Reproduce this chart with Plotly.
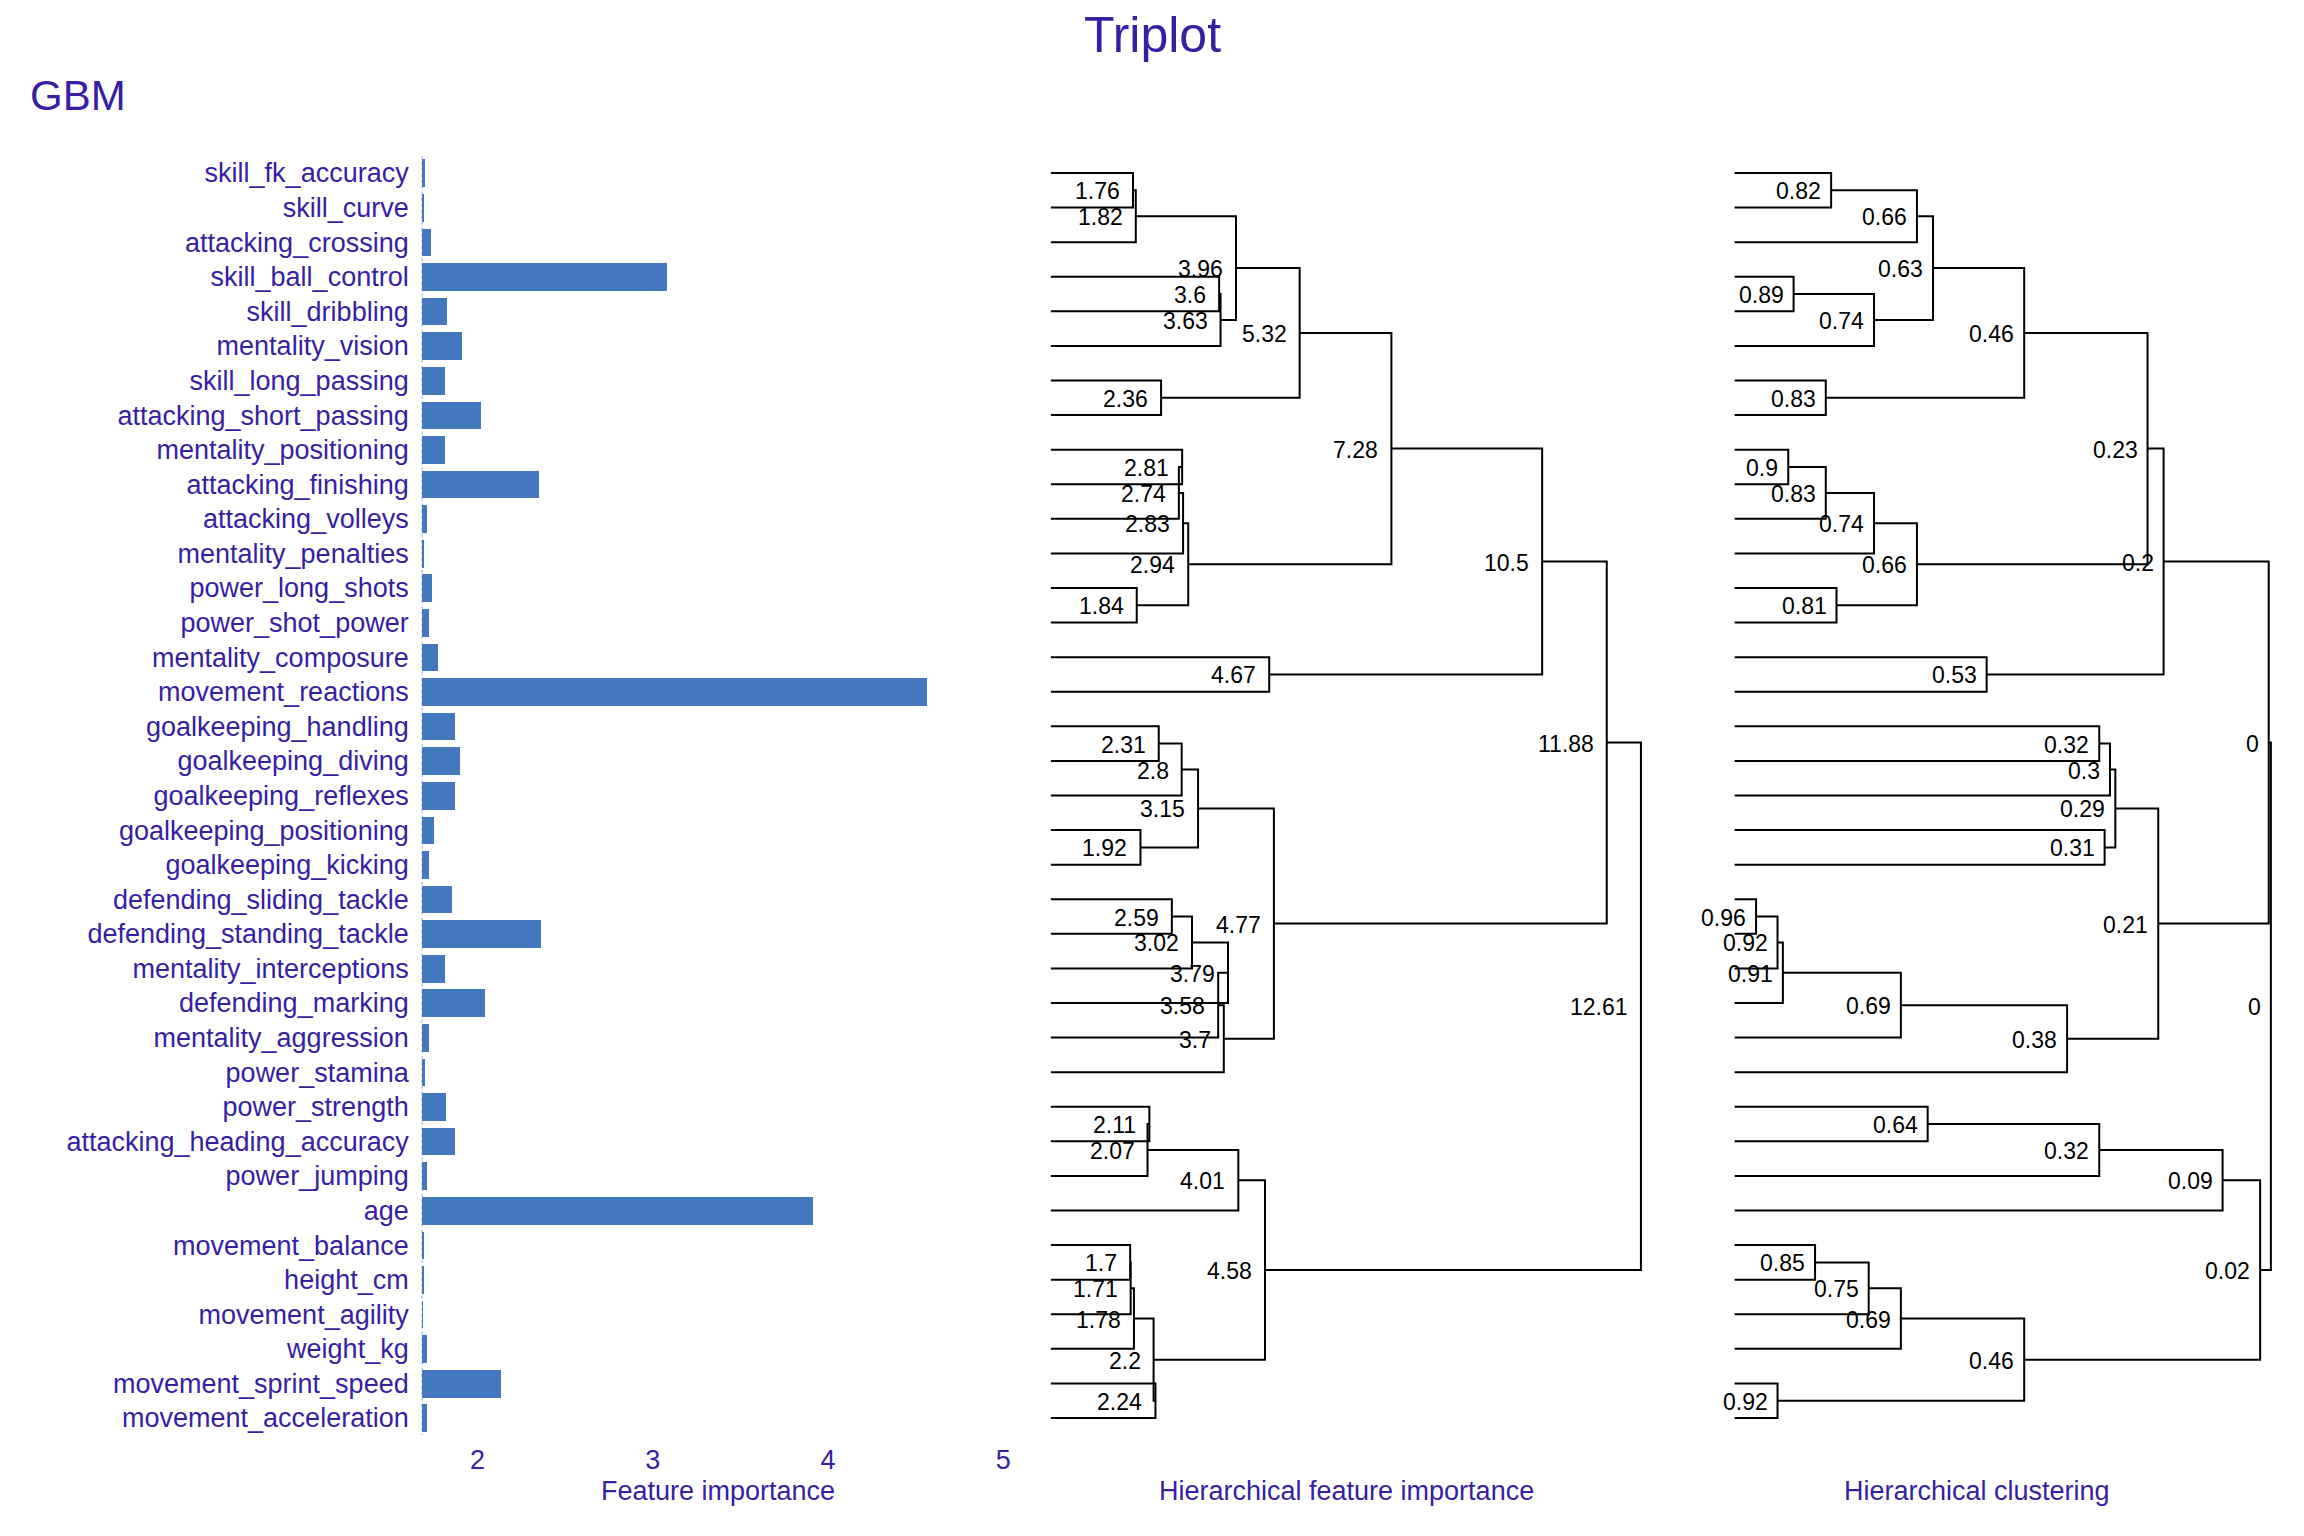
import plotly.graph_objects as go

# ---------------- data ----------------
features = [
    "skill_fk_accuracy", "skill_curve", "attacking_crossing", "skill_ball_control",
    "skill_dribbling", "mentality_vision", "skill_long_passing", "attacking_short_passing",
    "mentality_positioning", "attacking_finishing", "attacking_volleys", "mentality_penalties",
    "power_long_shots", "power_shot_power", "mentality_composure", "movement_reactions",
    "goalkeeping_handling", "goalkeeping_diving", "goalkeeping_reflexes", "goalkeeping_positioning",
    "goalkeeping_kicking", "defending_sliding_tackle", "defending_standing_tackle",
    "mentality_interceptions", "defending_marking", "mentality_aggression", "power_stamina",
    "power_strength", "attacking_heading_accuracy", "power_jumping", "age", "movement_balance",
    "height_cm", "movement_agility", "weight_kg", "movement_sprint_speed", "movement_acceleration",
]
importance = [
    1.70, 1.688, 1.732, 3.08, 1.822, 1.909, 1.81, 2.02, 1.81, 2.35, 1.71, 1.69,
    1.74, 1.72, 1.77, 4.56, 1.87, 1.90, 1.87, 1.75, 1.72, 1.85, 2.36, 1.81, 2.04,
    1.72, 1.70, 1.82, 1.87, 1.71, 3.91, 1.688, 1.688, 1.685, 1.71, 2.13, 1.71,
]
baseline = 1.681
xticks = [2, 3, 4, 5]

# merges in hclust convention: negative = leaf (row number), positive = earlier merge
merges = [
    (-1, -2), (1, -3), (-4, -5), (3, -6), (2, 4), (-7, -8), (5, 6), (-9, -10), (8, -11),
    (9, -12), (-13, -14), (10, 11), (7, 12), (-15, -16), (13, 14), (-17, -18), (16, -19),
    (-20, -21), (17, 18), (-22, -23), (20, -24), (21, -25), (22, -26), (23, -27), (19, 24),
    (15, 25), (-28, -29), (27, -30), (28, -31), (-32, -33), (30, -34), (31, -35), (-36, -37),
    (32, 33), (29, 34), (26, 35),
]
hfi_heights = [
    1.76, 1.82, 3.6, 3.63, 3.96, 2.36, 5.32, 2.81, 2.74, 2.83, 1.84, 2.94, 7.28, 4.67, 10.5,
    2.31, 2.8, 1.92, 3.15, 2.59, 3.02, 3.79, 3.58, 3.7, 4.77, 11.88, 2.11, 2.07, 4.01, 1.7,
    1.71, 1.78, 2.24, 2.2, 4.58, 12.61,
]
clust_heights = [
    0.82, 0.66, 0.89, 0.74, 0.63, 0.83, 0.46, 0.9, 0.83, 0.74, 0.81, 0.66, 0.23, 0.53, 0.2,
    0.32, 0.3, 0.31, 0.29, 0.96, 0.92, 0.91, 0.69, 0.38, 0.21, 0.004, 0.64, 0.32, 0.09, 0.85,
    0.75, 0.69, 0.92, 0.46, 0.02, 0.0,
]

# ---------------- style ----------------
TITLE_COL = "#371ea3"
BAR_COL = "#4378bf"
FONT = "Liberation Sans, Arial, sans-serif"
W, H = 2304, 1536
LABEL_SIZE = 23

def fx(px):
    return px / W

def fy(py):
    return 1 - py / H

dom_bar = [fx(421.7), fx(1013.5)]
dom_mid = [fx(1050.6), fx(1642.8)]
dom_right = [fx(1681.0), fx(2273.0)]
dom_y = [fy(1435.3), fy(155.7)]
n = len(features)
rows = list(range(1, n + 1))


def dendro(heights, leaf_x):
    xs, ys, labs = [], [], []
    pos = {}
    for i, (a, b) in enumerate(merges, start=1):
        pts = []
        for c in (a, b):
            if c < 0:
                pts.append((leaf_x, -c))
            else:
                pts.append(pos[c])
        h = heights[i - 1]
        (x1, y1), (x2, y2) = pts
        xs += [x1, h, h, x2, None]
        ys += [y1, y1, y2, y2, None]
        ym = (y1 + y2) / 2
        pos[i] = (h, ym)
        labs.append((h, ym, f"{round(h, 2):g}"))
    return xs, ys, labs


fig = go.Figure()

# bars
fig.add_trace(go.Bar(
    y=rows, x=[v - baseline for v in importance], base=baseline, orientation="h",
    marker=dict(color=BAR_COL, line=dict(width=0)), width=0.8,
    xaxis="x", yaxis="y", showlegend=False, hoverinfo="skip",
))
fig.add_trace(go.Scatter(
    x=[baseline, baseline], y=[0.5, n + 0.5], mode="lines",
    line=dict(color=BAR_COL, width=1.2, dash="dot"),
    xaxis="x", yaxis="y", showlegend=False, hoverinfo="skip",
))

annotations = []
for hts, leafx, xa, ya, shift in ((hfi_heights, 0.0, "x2", "y2", -11),
                                  (clust_heights, 1.0, "x3", "y3", -8)):
    xs, ys, labs = dendro(hts, leafx)
    fig.add_trace(go.Scatter(
        x=xs, y=ys, mode="lines", line=dict(color="black", width=2),
        xaxis=xa, yaxis=ya, showlegend=False, hoverinfo="skip",
    ))
    for (h, ym, t) in labs:
        annotations.append(dict(
            x=h, y=ym, xref=xa, yref=ya, text=t, showarrow=False,
            xanchor="right", yanchor="middle", xshift=shift, yshift=-1,
            font=dict(family=FONT, size=LABEL_SIZE, color="black"),
        ))

# titles
annotations.append(dict(x=0.5, y=fy(35), xref="paper", yref="paper", text="Triplot",
                        showarrow=False, xanchor="center", yanchor="middle",
                        font=dict(family=FONT, size=50, color=TITLE_COL)))
annotations.append(dict(x=fx(28), y=fy(95), xref="paper", yref="paper", text="GBM",
                        showarrow=False, xanchor="left", yanchor="middle",
                        font=dict(family=FONT, size=42, color=TITLE_COL)))
for dom, t in ((dom_bar, "Feature importance"), (dom_mid, "Hierarchical feature importance"),
               (dom_right, "Hierarchical clustering")):
    annotations.append(dict(x=(dom[0] + dom[1]) / 2, y=fy(1491), xref="paper", yref="paper",
                            text=t, showarrow=False, xanchor="center", yanchor="middle",
                            font=dict(family=FONT, size=27, color=TITLE_COL)))

hidden = dict(showgrid=False, zeroline=False, showline=False, showticklabels=False, ticks="")

fig.update_layout(
    width=W, height=H, autosize=False,
    margin=dict(l=0, r=0, t=0, b=0),
    paper_bgcolor="white", plot_bgcolor="white",
    font=dict(family=FONT, color=TITLE_COL),
    bargap=0,
    xaxis=dict(domain=dom_bar, range=[baseline, 5.058], anchor="y",
               tickvals=xticks, ticktext=[str(t) for t in xticks],
               showgrid=False, zeroline=False, showline=False, ticks="",
               tickfont=dict(family=FONT, size=27, color=TITLE_COL), ticklabelstandoff=6),
    yaxis=dict(domain=dom_y, range=[n + 0.5, 0.5], anchor="x",
               tickvals=rows, ticktext=features,
               showgrid=False, zeroline=False, showline=False, ticks="",
               tickfont=dict(family=FONT, size=27, color=TITLE_COL), ticklabelstandoff=12),
    xaxis2=dict(domain=dom_mid, range=[0, 12.65], anchor="y2", **hidden),
    yaxis2=dict(domain=dom_y, range=[n + 0.5, 0.5], anchor="x2", **hidden),
    xaxis3=dict(domain=dom_right, range=[1.1, -0.004], anchor="y3", **hidden),
    yaxis3=dict(domain=dom_y, range=[n + 0.5, 0.5], anchor="x3", **hidden),
    annotations=annotations,
)

fig.write_html("out.html")
